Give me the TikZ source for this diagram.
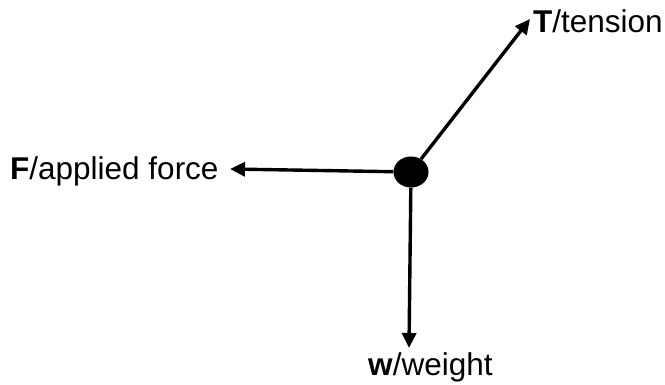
\documentclass[tikz,border=0pt]{standalone}
\usepackage{fontspec}
\setmainfont{Liberation Sans}
\usetikzlibrary{arrows.meta,shapes.geometric}
\begin{document}
\begin{tikzpicture}[x=1pt,y=-1pt,
  force/.style={line width=3.4pt,-{Triangle[length=15pt,width=14pt]}},
  lbl/.style={inner sep=0pt,font=\fontsize{31.5}{38}\selectfont},
  dotnode/.style={ellipse,fill=black,inner sep=0pt,minimum width=35pt,minimum height=31pt}]
\useasboundingbox (0,0) rectangle (665,385);
\node[dotnode] (dot) at (411,172) {};
\coordinate (tT) at (530,19);
\coordinate (tF) at (230,169);
\coordinate (tW) at (409,348);
\draw[force] (dot) -- (tT);
\draw[force] (dot) -- (tF);
\draw[force] (dot) -- (tW);
\node[lbl,anchor=base west] (lT) at (533,33) {\textbf{T}/tension};
\node[lbl,anchor=base west] (lF) at (10,180) {\textbf{F}/applied force};
\node[lbl,anchor=base west] (lW) at (368,375) {\textbf{w}/weight};
\end{tikzpicture}
\end{document}
